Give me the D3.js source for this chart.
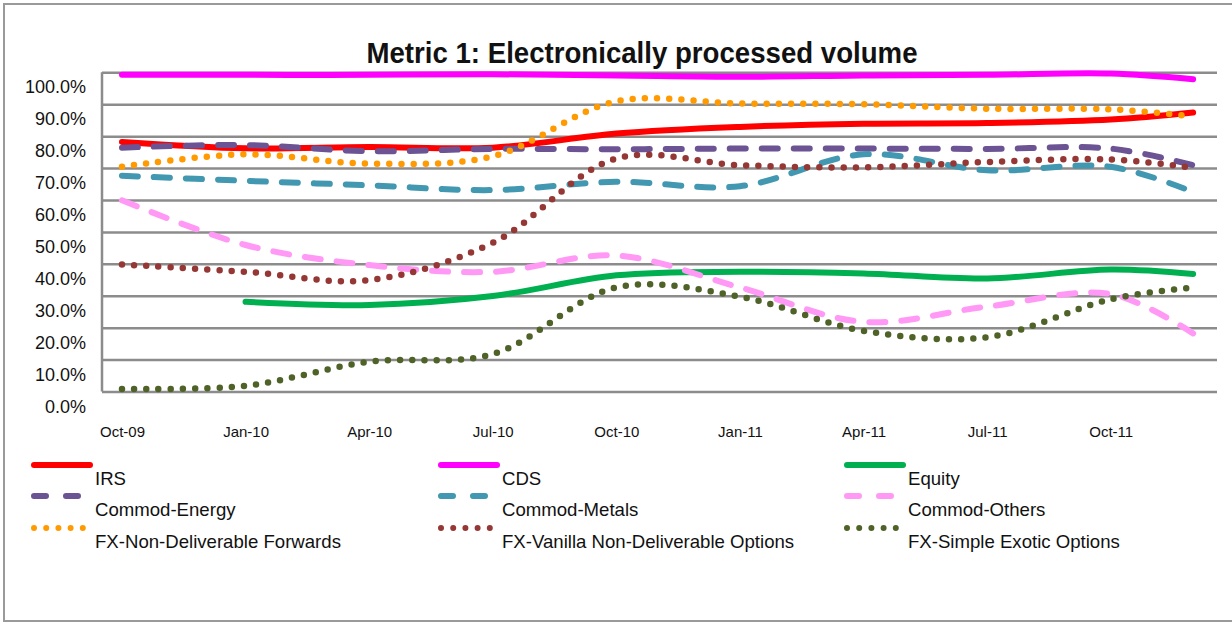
<!DOCTYPE html>
<head>
  <meta charset="utf-8">
  <title>Metric 1</title>
  <script src="https://d3js.org/d3.v7.min.js"></script>
  <style>
    body { margin: 0; background: #fff; }
    text { font-family: "Liberation Sans", Arial, sans-serif; fill: #111; }
  </style>
</head>
<body>
  <div id="chart"></div>
  <script>
    // months since Oct-09 for each data point (quarterly, last one Dec-11)
    var months = [0, 3, 6, 9, 12, 15, 18, 21, 24, 26];
    var tickMonths = [0, 3, 6, 9, 12, 15, 18, 21, 24];
    var tickLabels = ['Oct-09', 'Jan-10', 'Apr-10', 'Jul-10', 'Oct-10', 'Jan-11', 'Apr-11', 'Jul-11', 'Oct-11'];
    var yTicks = [0, 10, 20, 30, 40, 50, 60, 70, 80, 90, 100];

    var irs          = [78.2, 76.2, 76.6, 76.4, 80.8, 82.9, 83.9, 84.1, 85.2, 87.4];
    var cds          = [99.2, 99.2, 99.2, 99.4, 99.0, 98.6, 99.0, 99.2, 99.6, 97.8];
    var equity       = [null, 28.1, 27.1, 29.9, 36.4, 37.5, 37.0, 35.4, 38.2, 36.8];
    var commodEnergy = [76.4, 77.2, 75.3, 76.0, 75.9, 76.1, 76.1, 76.0, 76.1, 70.9];
    var commodMetals = [67.6, 66.0, 64.6, 63.1, 65.7, 64.3, 74.3, 69.3, 70.4, 62.5];
    var commodOthers = [59.9, 45.9, 39.6, 37.5, 42.6, 32.6, 21.8, 26.6, 30.5, 18.2];
    var fxNdf        = [70.4, 74.3, 71.4, 73.7, 90.9, 90.2, 90.0, 88.6, 88.4, 86.2];
    var fxVanilla    = [39.8, 37.5, 34.9, 46.6, 73.0, 70.9, 70.2, 71.9, 72.7, 70.1];
    var fxExotic     = [0.8, 1.8, 9.3, 11.7, 32.6, 29.7, 19.0, 17.0, 28.9, 32.6];

    var series = [
      { name: 'IRS', values: irs, color: '#ff0000', style: 'solid' },
      { name: 'CDS', values: cds, color: '#ff00ff', style: 'solid' },
      { name: 'Equity', values: equity, color: '#00b050', style: 'solid' },
      { name: 'Commod-Energy', values: commodEnergy, color: '#6b5394', style: 'dash' },
      { name: 'Commod-Metals', values: commodMetals, color: '#4198b0', style: 'dash' },
      { name: 'Commod-Others', values: commodOthers, color: '#ff99f5', style: 'dash' },
      { name: 'FX-Non-Deliverable Forwards', values: fxNdf, color: '#ff9a00', style: 'dot' },
      { name: 'FX-Vanilla Non-Deliverable Options', values: fxVanilla, color: '#953735', style: 'dot' },
      { name: 'FX-Simple Exotic Options', values: fxExotic, color: '#4f6228', style: 'dot' }
    ];

    var dashes = { solid: null, dash: '16,16', dot: '0,12.2' };

    var W = 1232, H = 624;
    var margin = { top: 72.3, left: 102, right: 15, bottom: 232.5 };
    var width = W - margin.left - margin.right;
    var height = H - margin.top - margin.bottom;

    var svg = d3.select('#chart').append('svg')
      .attr('width', W)
      .attr('height', H);

    // outer chart border
    svg.append('rect')
      .attr('x', 4).attr('y', 4)
      .attr('width', W + 10).attr('height', 617)
      .attr('fill', 'none')
      .attr('stroke', '#9a9a9a')
      .attr('stroke-width', 2);

    svg.append('text')
      .attr('x', 642).attr('y', 63)
      .attr('text-anchor', 'middle')
      .attr('font-size', 29)
      .attr('font-weight', 'bold')
      .attr('textLength', 551)
      .attr('lengthAdjust', 'spacingAndGlyphs')
      .text('Metric 1: Electronically processed volume');

    var x = d3.scaleLinear().domain([-0.485, 26.58]).range([0, width]);
    var y = d3.scaleLinear().domain([0, 100]).range([height, 0]);

    var g = svg.append('g')
      .attr('transform', 'translate(' + margin.left + ',' + margin.top + ')');

    // gridlines + y labels
    var yAxis = g.append('g')
      .call(d3.axisLeft(y).tickValues(yTicks).tickSize(-width).tickPadding(16)
        .tickFormat(function (d) { return d.toFixed(1) + '%'; }));
    yAxis.select('.domain').remove();
    yAxis.selectAll('line').attr('stroke', '#8c8c8c').attr('stroke-width', 2.5);
    yAxis.selectAll('text')
      .attr('font-size', 18)
      .attr('dy', '1.15em')
      .style('font-family', '"Liberation Sans", Arial, sans-serif')
      .attr('fill', '#111');

    // left border of the plot area
    g.append('line')
      .attr('x1', 0).attr('x2', 0)
      .attr('y1', 0).attr('y2', height)
      .attr('stroke', '#8c8c8c').attr('stroke-width', 2.5);

    // x labels
    var xAxis = g.append('g')
      .attr('transform', 'translate(0,' + height + ')')
      .call(d3.axisBottom(x).tickValues(tickMonths).tickSize(0).tickPadding(35)
        .tickFormat(function (d, i) { return tickLabels[i]; }));
    xAxis.select('.domain').remove();
    xAxis.selectAll('text')
      .attr('font-size', 15)
      .style('font-family', '"Liberation Sans", Arial, sans-serif')
      .attr('fill', '#111');

    var line = d3.line()
      .defined(function (d) { return d[1] !== null; })
      .x(function (d) { return x(d[0]); })
      .y(function (d) { return y(d[1]); })
      .curve(d3.curveCatmullRom.alpha(0.5));

    series.forEach(function (s) {
      var pts = months.map(function (m, i) { return [m, s.values[i]]; });
      g.append('path')
        .datum(pts)
        .attr('d', line)
        .attr('fill', 'none')
        .attr('stroke', s.color)
        .attr('stroke-width', s.style === 'dot' ? 6.5 : 6)
        .attr('stroke-linecap', 'round')
        .attr('stroke-linejoin', 'round')
        .attr('stroke-dasharray', dashes[s.style]);
    });

    // legend: 3 columns x 3 rows
    var colX = [34, 441, 847];
    var rowY = [465, 496, 528];
    var legend = svg.append('g');
    series.forEach(function (s, i) {
      var cx = colX[i % 3], cy = rowY[Math.floor(i / 3)];
      legend.append('line')
        .attr('x1', cx).attr('x2', cx + 56)
        .attr('y1', cy).attr('y2', cy)
        .attr('stroke', s.color)
        .attr('stroke-width', 6)
        .attr('stroke-linecap', 'round')
        .attr('stroke-dasharray', s.style === 'dash' ? '12,20' : dashes[s.style]);
      legend.append('text')
        .attr('x', cx + 61)
        .attr('y', cy + 20)
        .attr('font-size', 18.6)
        .text(s.name);
    });
  </script>
</body>
